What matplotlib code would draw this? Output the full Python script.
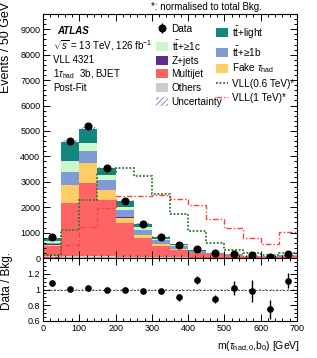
import numpy as np
import matplotlib
matplotlib.use("Agg")
import matplotlib.pyplot as plt
from matplotlib.patches import Patch
from matplotlib.lines import Line2D
from matplotlib.ticker import MultipleLocator, FixedLocator, FuncFormatter

plt.rcParams["font.family"] = ["Liberation Sans", "DejaVu Sans"]
plt.rcParams["mathtext.fontset"] = "custom"
plt.rcParams["mathtext.rm"] = "Liberation Sans"
plt.rcParams["mathtext.it"] = "Liberation Sans:italic"
plt.rcParams["mathtext.bf"] = "Liberation Sans:bold"
plt.rcParams["hatch.linewidth"] = 0.5

# binning: 14 bins of 50 GeV
edges = np.arange(0, 701, 50)

# observed data
data = [830, 4600, 5180, 3540, 2250, 1330, 820, 505, 355, 215, 170, 112, 55, 150]

# background components (stack order, bottom to top)
others = [60, 80, 90, 70, 50, 40, 30, 20, 15, 10, 8, 6, 4, 6]
multijet = [400, 2075, 2850, 2215, 1315, 730, 440, 300, 170, 135, 95, 65, 42, 80]
fake_tau = [70, 720, 790, 390, 220, 135, 80, 50, 25, 20, 12, 8, 5, 9]
zjets = [5, 15, 15, 10, 10, 5, 5, 3, 2, 2, 1, 1, 1, 1]
tt_1b = [70, 510, 480, 365, 295, 190, 140, 90, 50, 35, 25, 17, 11, 19]
tt_1c = [50, 430, 315, 220, 110, 110, 50, 35, 20, 15, 10, 7, 4, 8]
tt_light = [115, 725, 540, 270, 250, 145, 90, 62, 35, 27, 16, 10, 6, 12]

# signals, normalised to total background
vll_06 = [100, 1100, 2285, 3330, 3555, 3230, 2520, 1730, 1075, 580, 315, 190, 117, 200]
vll_1 = [30, 510, 1210, 1955, 2440, 2440, 2480, 2330, 2080, 1545, 1170, 800, 545, 1010]

# ratio panel
ratio = [1.08, 1.01, 1.02, 1.00, 1.00, 0.98, 0.98, 0.90, 1.12, 0.88, 1.02, 0.98, 0.75, 1.11]
ratio_err = [0.02, 0.01, 0.01, 0.01, 0.015, 0.02, 0.03, 0.04, 0.055, 0.05, 0.09, 0.14, 0.12, 0.095]

W, H = 317, 358
fig = plt.figure(figsize=(W / 100, H / 100), dpi=100)


def fx(px):
    return px / W


def fy(py):
    return 1 - py / H


ax = fig.add_axes([fx(43), fy(258), fx(297) - fx(43), fy(14) - fy(258)])
rax = fig.add_axes([fx(43), fy(321), fx(297) - fx(43), fy(258) - fy(321)])

c_light = "#13877f"
c_1c = "#ccf7cc"
c_1b = "#7f9bd6"
c_z = "#5c2d91"
c_mj = "#ff6464"
c_oth = "#cccccc"
c_fake = "#ffcc66"
c_unc = "#4f5fd8"

layers = [
    (others, c_oth),
    (multijet, c_mj),
    (fake_tau, c_fake),
    (zjets, c_z),
    (tt_1b, c_1b),
    (tt_1c, c_1c),
    (tt_light, c_light),
]

bottom = np.zeros(len(data))
for vals, col in layers:
    ax.bar(edges[:-1], vals, width=50, bottom=bottom, align="edge",
           color=col, linewidth=0)
    bottom += np.array(vals)

# uncertainty band on total background
tot = np.append(bottom, bottom[-1])
ax.fill_between(edges, tot * 0.985, tot * 1.015, step="post", hatch="//////",
                facecolor="none", edgecolor=c_unc, linewidth=0)

ax.stairs(vll_06, edges, color="#2a7a2a", linestyle=(0, (1, 1)), lw=1.3,
          baseline=None)
ax.stairs(vll_1, edges, color="#ff4040", linestyle=(0, (4, 1.5, 1, 1.5)),
          lw=1.0, baseline=None)

centers = 0.5 * (edges[1:] + edges[:-1])
hdata = ax.errorbar(centers, data, yerr=np.sqrt(data), fmt="o", color="black",
                    ms=4.8, elinewidth=1, capsize=0)

ax.set_xlim(0, 700)
ax.set_ylim(0, 9600)
ax.xaxis.set_major_locator(MultipleLocator(100))
ax.xaxis.set_minor_locator(MultipleLocator(20))
ax.yaxis.set_major_locator(MultipleLocator(1000))
ax.yaxis.set_minor_locator(MultipleLocator(200))
ax.tick_params(which="both", direction="in", top=True, right=True,
               labelbottom=False, labelsize=6.5, width=0.7, pad=2)
ax.tick_params(which="major", length=5)
ax.tick_params(which="minor", length=2.5)
for s in ax.spines.values():
    s.set_linewidth(0.8)

# ratio panel
runc = np.full(len(edges), 0.012)
rax.fill_between(edges, 1 - runc, 1 + runc, step="post", hatch="//////",
                 facecolor="none", edgecolor=c_unc, linewidth=0)
rax.axhline(1, color="black", ls=(0, (3, 2)), lw=0.5)
rax.errorbar(centers, ratio, yerr=ratio_err, fmt="o", color="black",
             ms=3.8, elinewidth=1, capsize=0)
rax.set_xlim(0, 700)
rax.set_ylim(0.6, 1.4)
rax.xaxis.set_major_locator(MultipleLocator(100))
rax.xaxis.set_minor_locator(MultipleLocator(20))
rax.yaxis.set_major_locator(FixedLocator([0.6, 0.8, 1.0, 1.2]))
rax.yaxis.set_minor_locator(MultipleLocator(0.05))
rax.yaxis.set_major_formatter(FuncFormatter(lambda v, p: "1" if abs(v - 1) < 1e-6 else "%.1f" % v))
rax.tick_params(which="both", direction="in", top=True, right=True,
                labelsize=6.5, width=0.7, pad=2)
rax.tick_params(which="major", length=5)
rax.tick_params(which="minor", length=2.5)
for s in rax.spines.values():
    s.set_linewidth(0.8)

# axis titles
fig.text(fx(6), fy(2), "Events / 50 GeV", rotation=90, ha="center", va="top",
         fontsize=9)
fig.text(fx(7), fy(281), "Data / Bkg.", rotation=90, ha="center", va="center",
         fontsize=8.5)
fig.text(fx(300), fy(347), r"m($\tau_{\mathrm{had,0}}$,b$_{0}$) [GeV]",
         ha="right", va="center", fontsize=7.5)

# labels
fig.text(fx(151), fy(7), "*: normalised to total Bkg.", ha="left",
         va="center", fontsize=7)
fig.text(fx(57), fy(30.7), "ATLAS", ha="left", va="center", fontsize=7,
         weight="bold", style="italic")
info = [r"$\sqrt{s}$ = 13 TeV, 126 fb$^{-1}$", "VLL 4321",
        r"1$\tau_{\mathrm{had}}$  3b, BJET", "Post-Fit"]
for i, t in enumerate(info):
    fig.text(fx(53), fy(45.5 + 14.3 * i), t, ha="left", va="center",
             fontsize=7)

# legend, two fixed columns
h1 = [hdata,
      Patch(facecolor=c_1c, linewidth=0),
      Patch(facecolor=c_z, linewidth=0),
      Patch(facecolor=c_mj, linewidth=0),
      Patch(facecolor=c_oth, linewidth=0),
      Patch(facecolor="none", hatch="//////", edgecolor=c_unc, linewidth=0)]
l1 = ["Data", r"t$\bar{\mathrm{t}}$+≥1c", "Z+jets", "Multijet", "Others",
      "Uncertainty"]
h2 = [Patch(facecolor=c_light, linewidth=0),
      Patch(facecolor=c_1b, linewidth=0),
      Patch(facecolor=c_fake, linewidth=0),
      Line2D([], [], color="#2a7a2a", linestyle=(0, (1, 1)), lw=1.3),
      Line2D([], [], color="#ff4040", linestyle=(0, (4, 1.5, 1, 1.5)), lw=1.0)]
l2 = [r"t$\bar{\mathrm{t}}$+light", r"t$\bar{\mathrm{t}}$+≥1b",
      r"Fake $\tau_{\mathrm{had}}$", "VLL(0.6 TeV)*", "VLL(1 TeV)*"]

kw = dict(frameon=False, fontsize=7.2, borderpad=0, borderaxespad=0,
          handlelength=1.2, handleheight=1.0, handletextpad=0.35,
          labelspacing=0.38, loc="upper left", bbox_transform=fig.transFigure)
leg1 = ax.legend(h1, l1, bbox_to_anchor=(fx(156), fy(24)), **kw)
ax.add_artist(leg1)
ax.legend(h2, l2, bbox_to_anchor=(fx(216), fy(24)), **kw)

fig.savefig("out.png", dpi=100)
